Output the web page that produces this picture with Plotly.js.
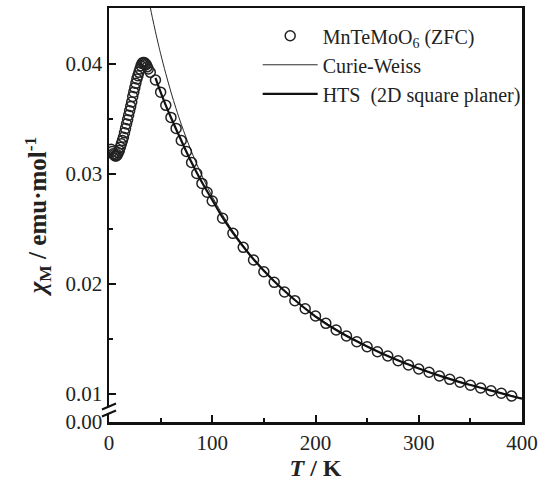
<!DOCTYPE html>
<html>
<head>
<meta charset="utf-8">
<script src="https://cdn.plot.ly/plotly-3.0.1.min.js"></script>
<style>
html,body{margin:0;padding:0;background:#fff;}
#chart{width:547px;height:481px;}
</style>
</head>
<body>
<div id="chart"></div>
<script>
// ZFC susceptibility data (T in K, chi in emu/mol)
const tempK = [2,3,4,5,6,7,8,9,10,11,12,13,14,15,16,17,18,19,20,21,22,23,24,25,26,27,28,29,30,31,32,33,34,35,36,37,38,
  40,45,50,55,60,65,70,75,80,85,90,95,100,
  110,120,130,140,150,160,170,180,190,200,210,220,230,240,250,260,270,280,290,300,310,320,330,340,350,360,370,380,390];
const chiZFC = [0.0322,0.0320,0.0318,0.0317,0.0316,0.0316,0.0317,0.0319,0.0321,0.0324,0.0327,0.0330,0.0333,0.0337,0.0341,0.0345,0.0349,0.0353,0.0357,0.0361,0.0365,0.0370,0.0374,0.0378,0.0382,0.0386,0.0389,0.0392,0.0395,0.0398,0.0400,0.0401,0.0401,0.0400,0.0399,0.0397,0.0395,
  0.0392,0.0385,0.0374,0.0362,0.0351,0.0341,0.0330,0.0320,0.0310,0.0300,0.0291,0.0283,0.0275,
  0.02593,0.02456,0.02329,0.02214,0.02107,0.02011,0.01923,0.01844,0.01771,0.01705,0.01638,0.01577,0.01523,0.01471,0.01425,0.01380,0.01341,0.01298,0.01259,0.01223,0.01193,0.01159,0.01129,0.01102,0.01075,0.01050,0.01025,0.01002,0.00977];

// Curie-Weiss curve
const tempCW = [38,40,42,45,48,50,55,60,65,70,80,90,100,110,120,140,160,180,200,225,250,275,300,325,350,375,400];
const chiCW = [0.04603,0.04509,0.04418,0.04289,0.04167,0.04089,0.03908,0.03741,0.03589,0.03448,0.03197,0.02980,0.02791,0.02624,0.02477,0.02226,0.02021,0.01851,0.01707,0.01556,0.01430,0.01322,0.01230,0.01149,0.01079,0.01016,0.00958];

// HTS (2D square planar) fit
const tempHTS = [45,50,55,60,70,80,90,100,110,120,140,160,180,200,225,250,275,300,325,350,375,400];
const chiHTS = [0.0387,0.0374,0.0362,0.0351,0.0330,0.0310,0.0292,0.0276,0.0260,0.0246,0.0222,0.0202,0.0185,0.0170,0.0155,0.01428,0.01320,0.01228,0.01147,0.01077,0.01015,0.00952];

// axis ticks
const xTicks = [0,100,200,300,400];
const xTickText = ['0','100','200','300','400'];
const xMinor = [50,150,250,350];
const yBottom = 0.00741;   // position of the broken-axis "0.00"
const yTicks = [yBottom,0.01,0.02,0.03,0.04];
const yTickText = ['0.00','0.01','0.02','0.03','0.04'];
const yMinor = [0.015,0.025,0.035];

const serif = 'Liberation Serif, Times New Roman, serif';

const traces = [
  {x: tempK, y: chiZFC, type: 'scatter', mode: 'markers',
   name: 'MnTeMoO<sub>6</sub> (ZFC)',
   marker: {symbol: 'circle-open', size: 10, color: '#222', line: {width: 1.5, color: '#222'}},
   cliponaxis: true},
  {x: tempCW, y: chiCW, type: 'scatter', mode: 'lines', line: {shape: 'spline', width: 0.9, color: '#111'},
   name: 'Curie-Weiss'},
  {x: tempHTS, y: chiHTS, type: 'scatter', mode: 'lines', line: {shape: 'spline', width: 2.2, color: '#111'},
   name: 'HTS  (2D square planer)'}
];

const axisCommon = {
  showgrid: false, zeroline: false, showline: true, linecolor: '#111', linewidth: 2.5,
  mirror: true, ticks: 'inside', ticklen: 7, tickwidth: 2, tickcolor: '#111',
  tickfont: {family: serif, size: 21, color: '#222'}
};

const layout = {
  width: 547, height: 481,
  margin: {l: 109, r: 25, t: 8, b: 59},
  paper_bgcolor: '#fff', plot_bgcolor: '#fff',
  showlegend: true,
  legend: {x: 0.36, y: 0.98, xanchor: 'left', yanchor: 'top', bgcolor: 'rgba(0,0,0,0)',
           font: {family: serif, size: 20, color: '#222'}, itemwidth: 55, tracegroupgap: 0},
  xaxis: Object.assign({}, axisCommon, {
    range: [0, 400], tickmode: 'array', tickvals: xTicks, ticktext: xTickText,
    minor: {tickmode: 'array', tickvals: xMinor, ticks: 'inside', ticklen: 4, tickwidth: 2, tickcolor: '#111'},
    title: {text: '<b><i>T</i> / K</b>', font: {family: serif, size: 24, color: '#222'}, standoff: 8}
  }),
  yaxis: Object.assign({}, axisCommon, {
    range: [yBottom, 0.04505], tickmode: 'array', tickvals: yTicks, ticktext: yTickText,
    minor: {tickmode: 'array', tickvals: yMinor, ticks: 'inside', ticklen: 4, tickwidth: 2, tickcolor: '#111'},
    title: {text: '<b><i>χ</i><sub>M</sub> / emu·mol<sup>-1</sup></b>', font: {family: serif, size: 25, color: '#222'}, standoff: 12}
  }),
  shapes: [
    // gap in the y axis for the break
    {type: 'rect', layer: 'above', xref: 'paper', yref: 'paper', xsizemode: 'pixel', ysizemode: 'pixel',
     xanchor: 0, yanchor: 0, x0: -3, x1: 3, y0: 9, y1: 15, fillcolor: '#fff', line: {width: 0}},
    {type: 'line', layer: 'above', xref: 'paper', yref: 'paper', xsizemode: 'pixel', ysizemode: 'pixel',
     xanchor: 0, yanchor: 0, x0: -7, x1: 7, y0: 12.5, y1: 18.5, line: {color: '#111', width: 2}},
    {type: 'line', layer: 'above', xref: 'paper', yref: 'paper', xsizemode: 'pixel', ysizemode: 'pixel',
     xanchor: 0, yanchor: 0, x0: -7, x1: 7, y0: 5.5, y1: 11.5, line: {color: '#111', width: 2}}
  ]
};

Plotly.newPlot('chart', traces, layout, {staticPlot: true, displayModeBar: false});
</script>
</body>
</html>
